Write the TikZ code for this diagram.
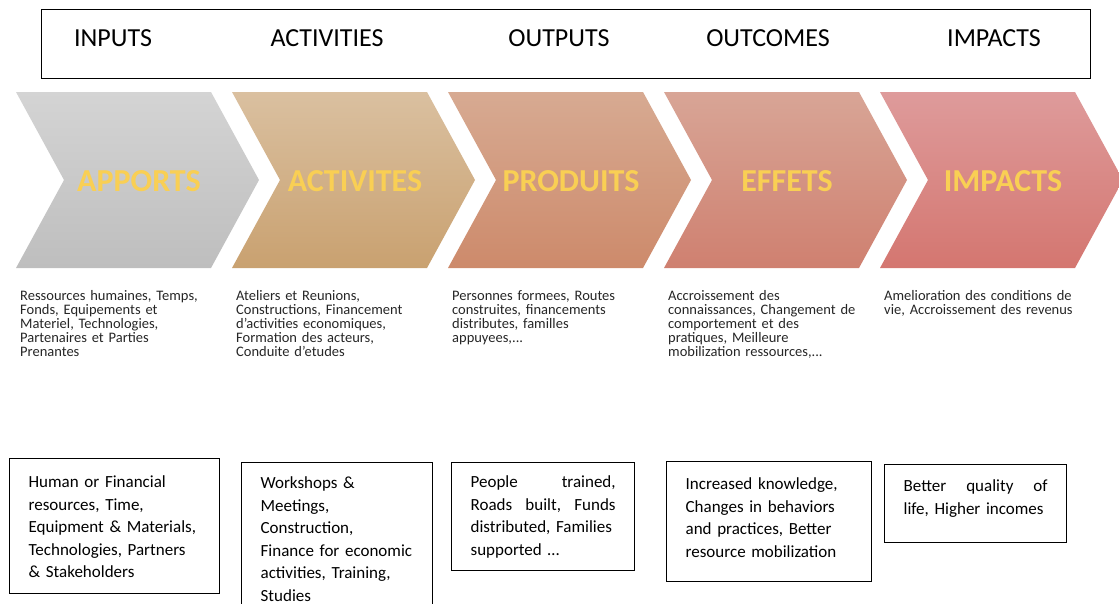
\documentclass[tikz,border=0pt]{standalone}
\usepackage{fontspec}
\setmainfont{Carlito}

\definecolor{apportstop}{RGB}{212,212,212}
\definecolor{apportsbot}{RGB}{190,190,190}
\definecolor{activitestop}{RGB}{218,192,160}
\definecolor{activitesbot}{RGB}{201,161,112}
\definecolor{produitstop}{RGB}{215,170,146}
\definecolor{produitsbot}{RGB}{205,138,107}
\definecolor{effetstop}{RGB}{216,165,150}
\definecolor{effetsbot}{RGB}{207,128,112}
\definecolor{impactstop}{RGB}{222,155,155}
\definecolor{impactsbot}{RGB}{212,118,112}
\definecolor{labelyellow}{RGB}{249,207,84}

\tikzstyle{headbox} = [
    rectangle,
    draw=black,
    line width=1.4pt,
    anchor=north west
]
\tikzstyle{headlabel} = [
    anchor=base,
    inner sep=0pt,
    font=\fontsize{26}{30}\selectfont
]
\tikzstyle{chevlabel} = [
    inner sep=0pt,
    text=labelyellow,
    font=\fontsize{32}{38}\selectfont\bfseries
]
\tikzstyle{frtext} = [
    anchor=base west,
    inner sep=0pt,
    text width=225pt,
    align=left,
    text=black!85,
    font=\fontsize{14.5}{14.2}\selectfont
]
\tikzstyle{outbox} = [
    rectangle,
    draw=black,
    line width=1.3pt,
    anchor=north west,
    inner xsep=19pt,
    inner ysep=0pt,
    align=left,
    font=\fontsize{17}{22.5}\selectfont
]
% full-width line, words pushed apart by \hfill
\newcommand{\spreadline}[1]{\makebox[\hsize][l]{#1}}

\begin{document}
\begin{tikzpicture}[x=1pt, y=-1pt]
\useasboundingbox (0,0) rectangle (1119,603);

\node (header) [headbox, minimum width=1049pt, minimum height=69pt] at (41,9) {};
\node (inputs) [headlabel] at (113,46) {INPUTS};
\node (activities) [headlabel] at (327,46) {ACTIVITIES};
\node (outputs) [headlabel] at (559,46) {OUTPUTS};
\node (outcomes) [headlabel] at (768,46) {OUTCOMES};
\node (impactsen) [headlabel] at (994,46) {IMPACTS};

% chevrons
\foreach \name/\lbl [count=\i from 0] in {apports/APPORTS, activites/ACTIVITES,
    produits/PRODUITS, effets/EFFETS, impacts/IMPACTS} {
    \pgfmathsetmacro{\x}{16+216*\i}
    \shade [top color=\name top, bottom color=\name bot]
        (\x,92) -- ++(195,0) -- ++(48,88) -- ++(-48,88) -- ++(-195,0) -- ++(48,-88) -- cycle;
    \node (\name) [chevlabel] at (\x+123,181) {\lbl};
}

\node (apports-fr) [frtext] at (20,300)
{Ressources humaines, Temps,\\ Fonds, Equipements et\\ Materiel, Technologies,\\ Partenaires et Parties\\ Prenantes};
\node (activites-fr) [frtext] at (236,300)
{Ateliers et Reunions,\\ Constructions, Financement\\ d'activities economiques,\\ Formation des acteurs,\\ Conduite d'etudes};
\node (produits-fr) [frtext] at (452,300)
{Personnes formees, Routes\\ construites, financements\\ distributes, familles\\ appuyees,...};
\node (effets-fr) [frtext] at (668,300)
{Accroissement des\\ connaissances, Changement de\\ comportement et des\\ pratiques, Meilleure\\ mobilization ressources,...};
\node (impacts-fr) [frtext] at (884,300)
{Amelioration des conditions de\\ vie, Accroissement des revenus};

% english boxes
\node (inputs-box) [outbox, text width=172pt, text height=29pt, text depth=106pt] at (9,458)
{Human or Financial\\ resources, Time,\\ Equipment \& Materials,\\ Technologies, Partners\\ \& Stakeholders};
\node (activities-box) [outbox, text width=153pt, text height=26pt, text depth=160pt] at (241,462)
{Workshops \&\\ Meetings,\\ Construction,\\ Finance for economic\\ activities, Training,\\ Studies};
\node (outputs-box) [outbox, text width=145pt, text height=25pt, text depth=83pt] at (451,462)
{\spreadline{People\hfill trained,}\\ \spreadline{Roads\hfill built,\hfill Funds}\\ distributed, Families\\ supported …};
\node (outcomes-box) [outbox, text width=167pt, text height=28pt, text depth=92pt] at (666,461)
{Increased knowledge,\\ Changes in behaviors\\ and practices, Better\\ resource mobilization};
\node (impacts-box) [outbox, text width=144pt, text height=27pt, text depth=51pt] at (884,464)
{\spreadline{Better\hfill quality\hfill of}\\ life, Higher incomes};

\end{tikzpicture}
\end{document}
